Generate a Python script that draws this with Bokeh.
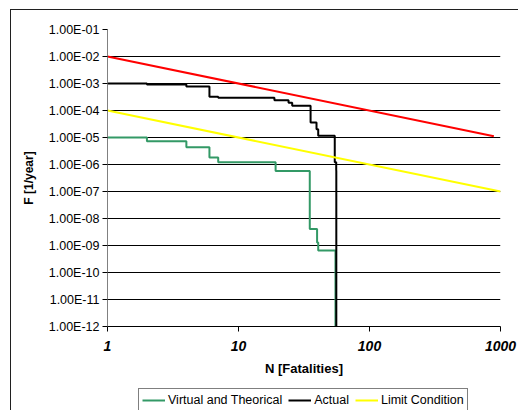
from bokeh.plotting import figure
from bokeh.models import FixedTicker, Legend, LegendItem, Column
from bokeh.embed import file_html
from bokeh.resources import INLINE

# ---- data ----
n_virtual = [1, 2, 4, 6, 7, 19.2, 35.0, 39.8, 40.6, 55.0]
f_virtual = [1e-5, 7.3e-6, 4.4e-6, 1.8e-6, 1.2e-6, 5.8e-7, 4.1e-9, 1.3e-9, 6.5e-10, 1e-12]

n_actual = [1, 2, 4, 6, 7, 18.8, 24.1, 25.7, 35.5, 39.4, 40.6, 54.3, 55.7, 55.8]
f_actual = [1e-3, 9.2e-4, 7.7e-4, 3.2e-4, 2.95e-4, 2.4e-4, 1.93e-4, 1.5e-4,
            3.6e-5, 2.0e-5, 1.15e-5, 1.22e-6, 6e-7, 1e-12]

n_limit = [1, 1000]
f_limit = [1e-4, 1e-7]

n_upper = [1, 890]
f_upper = [1e-2, 1.12e-5]

x_ticks = [1, 10, 100, 1000]
x_tick_labels = ["1", "10", "100", "1000"]
y_ticks = [1e-12, 1e-11, 1e-10, 1e-9, 1e-8, 1e-7, 1e-6, 1e-5, 1e-4, 1e-3, 1e-2, 1e-1]
y_tick_labels = ["1.00E-12", "1.00E-11", "1.00E-10", "1.00E-09", "1.00E-08", "1.00E-07",
                 "1.00E-06", "1.00E-05", "1.00E-04", "1.00E-03", "1.00E-02", "1.00E-01"]

series_names = ["Virtual and Theorical", "Actual", "Limit Condition"]
series_colors = ["#339966", "black", "#FFFF00"]

FONT = "Liberation Sans"

p = figure(width=507, height=372, x_axis_type="log", y_axis_type="log",
           x_range=(1, 1000), y_range=(1e-12, 1e-1),
           output_backend="svg", toolbar_location=None,
           min_border_left=96, min_border_right=18, min_border_top=19, min_border_bottom=56)
p.outline_line_color = None
p.background_fill_color = "white"
p.border_fill_color = "white"

# grid
p.xgrid.grid_line_color = None
p.ygrid.grid_line_color = "black"
p.ygrid.grid_line_width = 1
p.ygrid.minor_grid_line_color = None

# axes
p.xaxis.ticker = FixedTicker(ticks=x_ticks)
p.xaxis.major_label_overrides = dict(zip(x_ticks, x_tick_labels))
p.yaxis.ticker = FixedTicker(ticks=y_ticks)
p.yaxis.major_label_overrides = dict(zip(y_ticks, y_tick_labels))

for ax in (p.xaxis[0], p.yaxis[0]):
    ax.major_tick_out = 5
    ax.major_tick_in = 0
    ax.minor_tick_out = 0
    ax.minor_tick_in = 0
    ax.major_tick_line_color = "black"
    ax.major_label_text_color = "black"
    ax.axis_label_text_color = "black"
    ax.major_label_text_font = FONT
    ax.axis_label_text_font = FONT
    ax.axis_label_text_font_style = "bold"

p.xaxis.axis_line_color = "black"
p.yaxis.axis_line_color = "#808080"
p.xaxis.major_label_text_font_size = "14px"
p.xaxis.major_label_text_font_style = "bold italic"
p.xaxis.major_label_standoff = 9
p.xaxis.axis_label = "N [Fatalities]"
p.xaxis.axis_label_text_font_size = "13px"
p.xaxis.axis_label_standoff = 7

p.yaxis.major_label_text_font_size = "12.5px"
p.yaxis.major_label_standoff = 3
p.yaxis.axis_label = "F [1/year]"
p.yaxis.axis_label_text_font_size = "12px"
p.yaxis.axis_label_standoff = 10

# series
p.step(n_virtual, f_virtual, mode="after", line_color=series_colors[0], line_width=2)
p.step(n_actual, f_actual, mode="after", line_color=series_colors[1], line_width=2)
p.line(n_limit, f_limit, line_color=series_colors[2], line_width=2)
p.line(n_upper, f_upper, line_color="#FF0000", line_width=2)

# legend strip (own canvas, so the legend is not clipped by the plot frame)
q = figure(width=507, height=28, x_range=(0, 1), y_range=(0, 1),
           output_backend="svg", toolbar_location=None,
           x_axis_location=None, y_axis_location=None,
           min_border_left=96, min_border_right=18, min_border_top=0, min_border_bottom=0)
q.outline_line_color = None
q.grid.grid_line_color = None
q.background_fill_color = "white"
q.border_fill_color = "white"
items = []
for name, color in zip(series_names, series_colors):
    r = q.line(x=[float("nan")], y=[float("nan")], line_color=color, line_width=2)
    items.append(LegendItem(label=name, renderers=[r]))

legend = Legend(items=items, orientation="horizontal", location=(31, -2))
legend.label_text_font = FONT
legend.label_text_font_size = "12.5px"
legend.label_text_color = "black"
legend.glyph_width = 23
legend.glyph_height = 16
legend.label_height = 16
legend.label_standoff = 3
legend.spacing = 6
legend.padding = 3
legend.margin = 0
legend.border_line_color = "black"
legend.border_line_width = 1
legend.background_fill_color = "white"
legend.background_fill_alpha = 1
q.add_layout(legend)

layout = Column(children=[p, q], spacing=0,
                styles={"margin-left": "10px", "margin-top": "9px",
                        "border-left": "1px solid #202020", "border-top": "1px solid #202020"})

open("out.html", "w").write(file_html(layout, INLINE))
